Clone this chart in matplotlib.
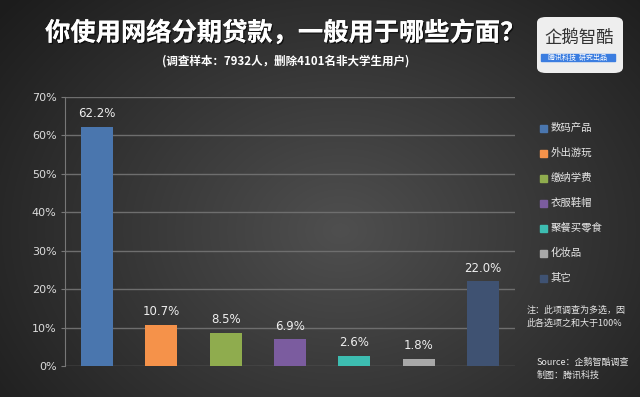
import matplotlib
matplotlib.use('Agg')
import matplotlib.pyplot as plt
import matplotlib.patheffects as pe
import numpy as np
from matplotlib.patches import FancyBboxPatch, Rectangle

plt.rcParams['font.family'] = ['Noto Sans CJK SC', 'DejaVu Sans']

categories = ['数码产品', '外出游玩', '缴纳学费', '衣服鞋帽', '聚餐买零食', '化妆品', '其它']
values = [62.2, 10.7, 8.5, 6.9, 2.6, 1.8, 22.0]
colors = ['#4a76ae', '#f5924a', '#8fac4e', '#7b5c9f', '#3dbdb1', '#a8a8a8', '#3f5272']
yticks = [0, 10, 20, 30, 40, 50, 60, 70]

title = '你使用网络分期贷款，一般用于哪些方面？'
subtitle = '(调查样本：7932人，删除4101名非大学生用户)'
note = '注：此项调查为多选，因\n此各选项之和大于100%'
source = 'Source：企鹅智酷调查\n制图：腾讯科技'

fig = plt.figure(figsize=(6.4, 3.97), dpi=100)

# background gradient
bg = fig.add_axes([0, 0, 1, 1], zorder=-10)
yy, xx = np.mgrid[0:397, 0:640]
r = np.sqrt(((xx - 340) / 420.0) ** 2 + ((yy - 230) / 330.0) ** 2)
shade = np.clip(0.31 - 0.19 * r, 0.11, 0.31)
bg.imshow(np.dstack([shade, shade, shade]), aspect='auto', extent=[0, 1, 0, 1])
bg.set_axis_off()

ax = fig.add_axes([65 / 640, 1 - 366 / 397, 450 / 640, 269 / 397])
ax.patch.set_alpha(0)
x = np.arange(len(values))
ax.bar(x, values, width=0.5, color=colors, zorder=3)
for xi, v in zip(x, values):
    ax.text(xi, v + 1.8, '%.1f%%' % v, ha='center', va='bottom',
            color='#eeeeee', fontsize=8.5, family='DejaVu Sans')

ax.set_xlim(-0.5, len(values) - 0.5)
ax.set_ylim(0, 70)
ax.set_yticks(yticks)
ax.set_yticklabels(['%d%%' % t for t in yticks], color='#dddddd', fontsize=8,
                   family='DejaVu Sans')
ax.set_xticks([])
ax.grid(axis='y', color='#6e6e6e', lw=1, zorder=0)
for s in ['top', 'right', 'bottom']:
    ax.spines[s].set_visible(False)
ax.spines['left'].set_color('#777777')
ax.tick_params(axis='y', color='#777777', length=3, pad=3)

# legend
for i, (c, name) in enumerate(zip(colors, categories)):
    yl = 1 - (128 + 25 * i) / 397
    fig.patches.append(Rectangle((540 / 640, yl - 3.5 / 397), 7 / 640, 7 / 397,
                                 color=c, transform=fig.transFigure))
    fig.text(551 / 640, yl, name, color='#e6e6e6', fontsize=7.5, va='center')

fig.text(527 / 640, 1 - 317 / 397, note, color='#e6e6e6', fontsize=6.5,
         style='italic', va='center', linespacing=1.6)
fig.text(537 / 640, 1 - 369 / 397, source, color='#e6e6e6', fontsize=6.5,
         style='italic', va='center', linespacing=1.6)

# title
shadow = [pe.withSimplePatchShadow(offset=(1, -1), shadow_rgbFace='black', alpha=0.6),
          pe.Normal()]
fig.text(285 / 640, 1 - 33 / 397, title, color='white', fontsize=18.2,
         fontweight='bold', ha='center', va='center', path_effects=shadow)
fig.text(286 / 640, 1 - 61 / 397, subtitle, color='white', fontsize=8.3,
         fontweight='bold', ha='center', va='center')

# logo
logo = FancyBboxPatch((537 / 640, 1 - 73 / 397), 86 / 640, 56 / 397,
                      boxstyle='round,pad=0,rounding_size=0.014',
                      fc='#eeeeee', ec='none', transform=fig.transFigure)
fig.patches.append(logo)
fig.text(579 / 640, 1 - 38 / 397, '企鹅智酷', color='#333333', fontsize=12.5,
         ha='center', va='center')
fig.patches.append(Rectangle((541 / 640, 1 - 61 / 397), 74 / 640, 7 / 397,
                             color='#3b7de0', transform=fig.transFigure))
fig.text(578 / 640, 1 - 57.5 / 397, '腾讯科技  研究出品', color='white',
         fontsize=5, ha='center', va='center', style='italic')

fig.savefig('out.png', dpi=100)
